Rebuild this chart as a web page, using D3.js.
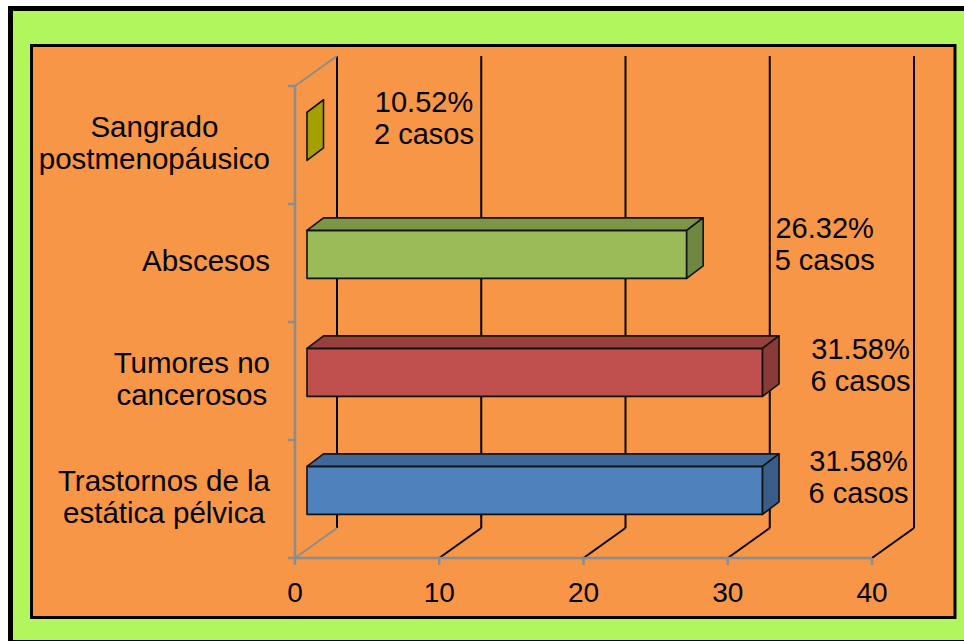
<!DOCTYPE html>
<html><head><meta charset="utf-8">
<script src="https://cdn.jsdelivr.net/npm/d3@7"></script>
<style>
body{margin:0;background:#fff}
svg{display:block}
text{font-family:"Liberation Sans",Arial,Helvetica,sans-serif;fill:#000}
</style>
</head><body>
<svg id="chart" width="964" height="641"></svg>
<script>
// ---- data ----
const categories = [["Sangrado","postmenopáusico"],["Abscesos"],["Tumores no","cancerosos"],["Trastornos de la","estática pélvica"]];
const values = [0, 26.32, 31.58, 31.58];
const percentLabels = ["10.52%","26.32%","31.58%","31.58%"];
const caseLabels = ["2 casos","5 casos","6 casos","6 casos"];
const xTicks = [0, 10, 20, 30, 40];
const barColors = ["#e5de00","#9bbb59","#c0504d","#4f81bd"];

// ---- layout ----
const labelShift = [[117,0],[138,8],[98,11],[96,5]]; // label centre offset from bar front top-right
const svg = d3.select("#chart");
const depth = {dx: 42, dy: -30};      // wall depth
const barFront = {dx: 12, dy: -8.6};  // bar front plane offset
const barDepth = {dx: 16.5, dy: -12.5};
const barH = 48;

const x = d3.scaleLinear().domain([0, 40]).range([295, 872]);
const y = d3.scaleBand().domain(d3.range(categories.length)).range([86, 558]);
const floorY = 558, topY = 86;

// backgrounds
svg.append("rect").attr("x",10.5).attr("y",8.5).attr("width",970).attr("height",634)
  .attr("fill","#b0f65c").attr("stroke","#000").attr("stroke-width",5);
svg.append("rect").attr("x",31.5).attr("y",45.5).attr("width",923.5).attr("height",572)
  .attr("fill","#f79646").attr("stroke","#000").attr("stroke-width",3);

const g = svg.append("g");

// back wall gridlines + floor diagonals
xTicks.forEach(v => {
  const bx = x(v) + depth.dx;
  g.append("line").attr("x1",bx).attr("x2",bx).attr("y1",topY+depth.dy).attr("y2",floorY+depth.dy)
    .attr("stroke","#000").attr("stroke-width",2);
  g.append("line").attr("x1",bx).attr("y1",floorY+depth.dy).attr("x2",x(v)).attr("y2",floorY)
    .attr("stroke", v === 0 ? "#8c8c8c" : "#000").attr("stroke-width",2);
});
// left wall (gray)
const axisCol = "#8c8c8c";
g.append("line").attr("x1",x(0)).attr("x2",x(0)).attr("y1",topY).attr("y2",floorY)
  .attr("stroke",axisCol).attr("stroke-width",2.5);
g.append("line").attr("x1",x(0)).attr("y1",topY).attr("x2",x(0)+depth.dx).attr("y2",topY+depth.dy)
  .attr("stroke",axisCol).attr("stroke-width",2);
// category ticks
const bounds = d3.range(categories.length).map(i => y(i)).concat([floorY]);
bounds.forEach(b => {
  g.append("line").attr("x1",x(0)-7).attr("x2",x(0)).attr("y1",b).attr("y2",b)
    .attr("stroke",axisCol).attr("stroke-width",2.5);
});
// floor front line
g.append("line").attr("x1",x(0)).attr("x2",x(40)).attr("y1",floorY).attr("y2",floorY)
  .attr("stroke",axisCol).attr("stroke-width",2.5);
xTicks.forEach(v => {
  g.append("line").attr("x1",x(v)).attr("x2",x(v)).attr("y1",floorY).attr("y2",floorY+7)
    .attr("stroke",axisCol).attr("stroke-width",2.5);
  g.append("text").attr("x",x(v)).attr("y",602).attr("text-anchor","middle")
    .attr("font-size",28).text(v);
});

// bars
const pts = a => a.map(p => p.join(",")).join(" ");
values.forEach((v, i) => {
  const c = d3.color(barColors[i]);
  const yc = y(i) + y.bandwidth()/2 + barFront.dy;
  const yt = yc - barH/2, yb = yc + barH/2;
  const x0 = x(0) + barFront.dx, x1 = x(v) + barFront.dx;
  const dx = barDepth.dx, dy = barDepth.dy;
  const bg = g.append("g").attr("stroke","#111").attr("stroke-width",1.6).attr("stroke-linejoin","round");
  if (x1 > x0) {
    bg.append("polygon").attr("points", pts([[x0,yt],[x1,yt],[x1,yb],[x0,yb]])).attr("fill", c.formatHex());
  }
  bg.append("polygon").attr("points", pts([[x0,yt],[x1,yt],[x1+dx,yt+dy],[x0+dx,yt+dy]]))
    .attr("fill", c.darker(0.63).formatHex());
  bg.append("polygon").attr("points", pts([[x1,yt],[x1+dx,yt+dy],[x1+dx,yb+dy],[x1,yb]]))
    .attr("fill", c.darker(0.92).formatHex());

  // data label
  const lx = x1 + labelShift[i][0], ly = yt + labelShift[i][1];
  const t = g.append("text").attr("text-anchor","middle").attr("font-size",29);
  t.append("tspan").attr("x",lx).attr("y",ly).text(percentLabels[i]);
  t.append("tspan").attr("x",lx).attr("y",ly+32).text(caseLabels[i]);
});

// category labels (block right-aligned, lines centered)
categories.forEach((lines, i) => {
  const cy = y(i) + y.bandwidth()/2;
  const t = g.append("text").attr("font-size",29.5).attr("text-anchor","middle");
  const spans = lines.map((s, k) => t.append("tspan")
    .attr("y", cy + (k - (lines.length-1)/2) * 32 + 8).text(s));
  const maxW = d3.max(spans, s => s.node().getComputedTextLength());
  const cx = 270 - maxW/2;
  spans.forEach(s => s.attr("x", cx));
});
</script>
</body></html>
